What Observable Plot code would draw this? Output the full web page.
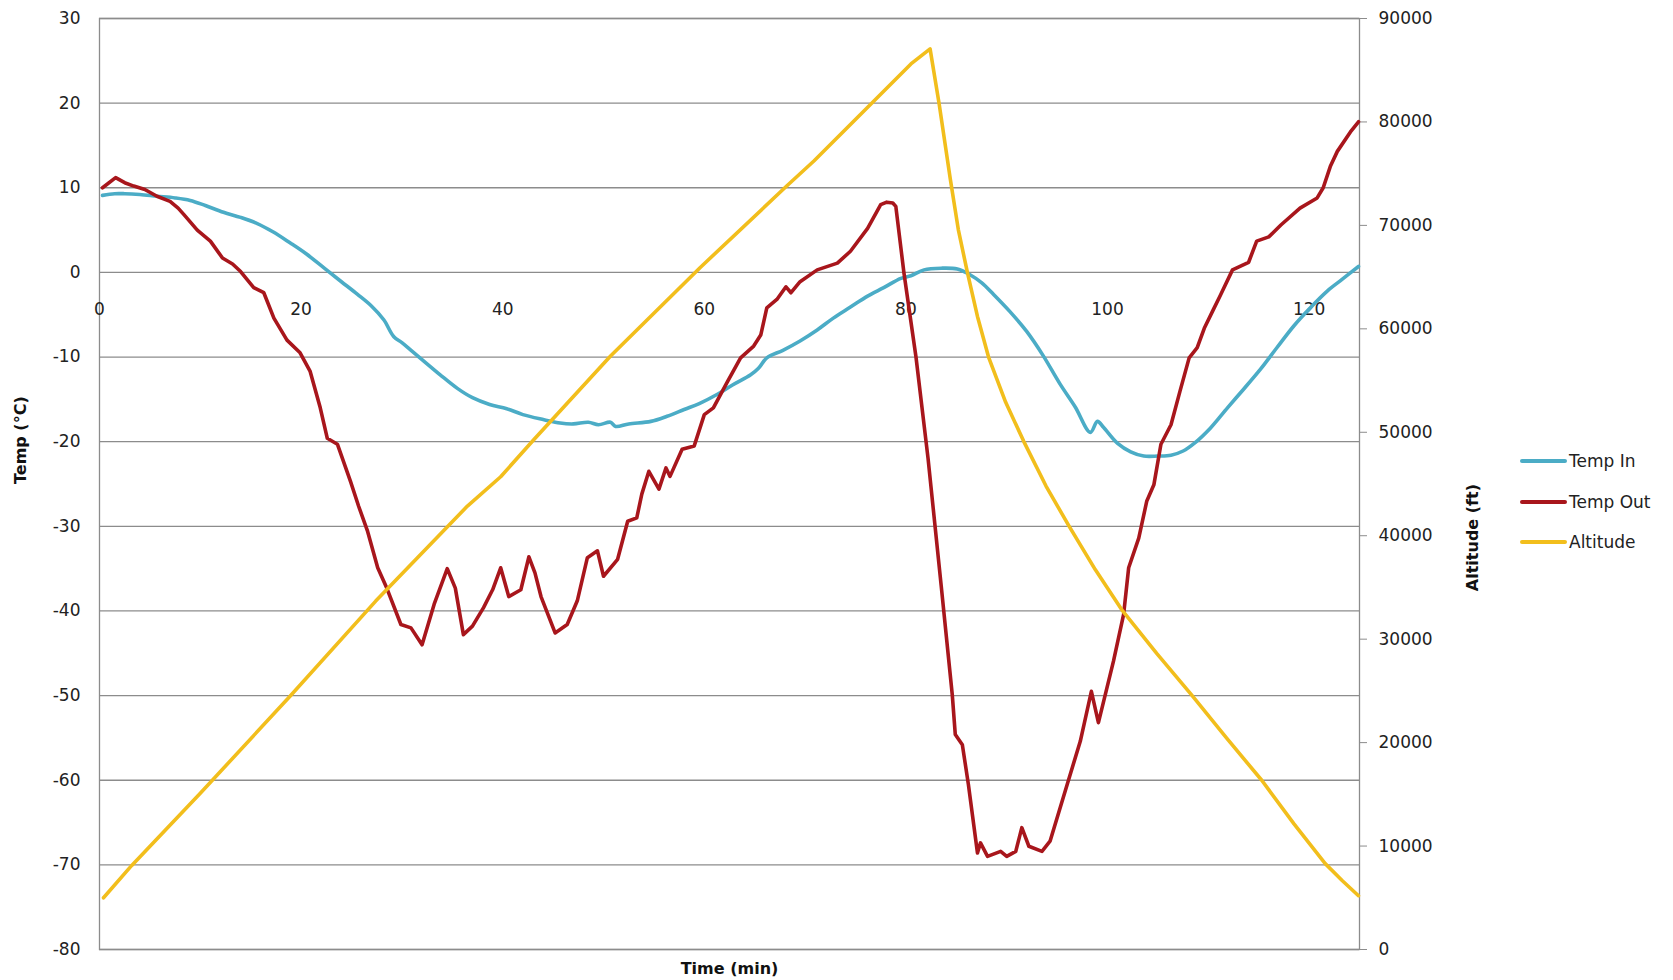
<!DOCTYPE html>
<html><head><meta charset="utf-8">
<script src="https://cdn.jsdelivr.net/npm/d3@7"></script>
<script src="https://cdn.jsdelivr.net/npm/@observablehq/plot@0.6"></script>
<style>
body{margin:0;background:#fff;font-family:"DejaVu Sans",sans-serif;}
#wrap{position:relative;width:1673px;height:980px;}
#legend{position:absolute;left:1520px;top:441px;font-size:17px;color:#222;}
.item{display:flex;align-items:center;height:40.5px;}
.sw{width:47px;height:4px;margin-right:2px;border-radius:2px;}
</style></head><body><div id="wrap"><div id="legend"></div></div>
<script>
// ---- data ----
const inTime = [0.3,1.5,2.5,4,5.7,7.5,9.0,10.5,12.3,14,15.6,17.2,18.9,20.5,22.3,24,25.6,27,28.2,29.2,30,31,32.2,33.8,35.5,37,38.7,40.4,42,44.1,45.7,47,48.5,49.5,50.7,51.2,52.5,54.7,56.3,58.0,59.5,61.3,62.8,64.6,65.4,66.2,67.8,69.5,71.2,72.8,74.5,76.2,77.8,79.5,80.5,81.8,83.5,85.1,86.4,87.5,88.7,90.3,92.0,93.6,95.3,96.8,98.3,99.0,99.6,101.0,102.3,103.6,105,106.3,107.5,108.6,110.2,111.9,113.5,115.2,116.8,118.5,120.1,121.8,123.3,124.9];
const inTemp = [9.1,9.3,9.3,9.2,9.0,8.8,8.5,7.9,7.1,6.5,5.8,4.8,3.5,2.2,0.5,-1.1,-2.6,-4.0,-5.6,-7.6,-8.3,-9.3,-10.5,-12.1,-13.7,-14.8,-15.6,-16.1,-16.8,-17.4,-17.8,-17.9,-17.7,-18.0,-17.7,-18.2,-17.9,-17.6,-17.0,-16.2,-15.5,-14.4,-13.3,-12.1,-11.3,-10.1,-9.2,-8.1,-6.8,-5.4,-4.1,-2.8,-1.8,-0.7,-0.4,0.3,0.5,0.4,-0.3,-1.2,-2.6,-4.6,-7.0,-9.8,-13.2,-15.9,-18.9,-17.6,-18.3,-20.2,-21.2,-21.7,-21.7,-21.6,-21.1,-20.2,-18.4,-16.0,-13.8,-11.4,-8.9,-6.3,-4.2,-2.2,-0.8,0.7];

const outTime = [0.3,1.6,2.5,3.4,4.5,5.7,7.0,7.8,8.4,9.7,11.0,12.2,13.2,14.0,15.3,16.3,17.3,18.6,19.9,20.9,21.9,22.6,23.6,24.9,25.7,26.6,27.6,28.5,29.9,30.9,32.0,33.2,34.5,35.3,36.1,37.0,38.1,39.0,39.8,40.6,41.8,42.6,43.2,43.8,45.2,46.4,47.4,48.4,49.4,50.0,51.4,52.4,53.3,53.8,54.5,55.5,56.2,56.6,57.8,59.0,60.0,60.9,62.3,63.6,64.9,65.6,66.2,67.2,68.1,68.6,69.5,71.2,73.2,74.5,76.2,77.5,78.1,78.7,79.0,79.8,81.0,82.2,83.5,84.6,84.9,85.6,86.2,87.1,87.4,88.1,89.4,90.0,90.9,91.5,92.2,93.5,94.3,96.0,97.3,98.4,99.1,100.6,101.6,102.1,103.1,103.9,104.6,105.3,106.3,107.2,108.1,108.9,109.6,110.5,111.2,112.4,114.0,114.8,116.0,117.2,119.1,120.8,121.4,122.1,122.8,124.1,124.9];
const outTemp = [10.0,11.2,10.6,10.2,9.8,9.0,8.4,7.6,6.8,5.0,3.7,1.7,1.0,0.1,-1.8,-2.4,-5.4,-8.0,-9.5,-11.7,-16.0,-19.6,-20.3,-24.7,-27.6,-30.6,-34.9,-37.3,-41.6,-42.0,-44.0,-39.2,-35.0,-37.3,-42.8,-41.8,-39.6,-37.5,-34.9,-38.3,-37.5,-33.6,-35.5,-38.3,-42.6,-41.6,-38.8,-33.7,-32.9,-35.9,-33.9,-29.4,-29.0,-26.2,-23.5,-25.6,-23.1,-24.1,-20.9,-20.5,-16.8,-16.0,-12.9,-10.1,-8.7,-7.4,-4.2,-3.2,-1.7,-2.4,-1.1,0.3,1.1,2.5,5.2,8.0,8.3,8.2,7.8,0.0,-10.0,-22.0,-37.0,-49.9,-54.6,-55.8,-60.5,-68.6,-67.4,-69.0,-68.4,-69.0,-68.4,-65.6,-67.8,-68.4,-67.2,-60.5,-55.4,-49.5,-53.2,-45.9,-40.4,-34.9,-31.4,-27.0,-25.1,-20.3,-18.0,-14.0,-10.1,-8.9,-6.6,-4.4,-2.7,0.3,1.2,3.7,4.2,5.6,7.6,8.8,10.0,12.5,14.3,16.6,17.8];

const altTime = [0.4,3.2,10,18.9,27.4,36.5,39.8,43.1,50.7,59.6,68.2,70.9,80.5,82.4,83.3,84.4,85.2,86.1,87.1,88.2,89.9,91.7,93.9,96.2,98.8,101.5,104.9,108.4,111.8,115.3,118.5,121.6,123.3,124.9];
const altitude = [5000,8130,15100,24480,33680,42870,45700,49300,57380,65930,73830,76250,85610,87060,81740,74500,69600,65450,61200,57270,52900,49100,44800,40900,36700,32730,28600,24550,20450,16360,12150,8300,6650,5200];

const xTicks = [0,20,40,60,80,100,120];
const tempTicks = [-80,-70,-60,-50,-40,-30,-20,-10,0,10,20,30];
const altTicks = [0,10000,20000,30000,40000,50000,60000,70000,80000,90000];
const seriesNames = ["Temp In","Temp Out","Altitude"];
const seriesColors = ["#4BACC6","#A8161C","#F2BE1C"];

// ---- build ----
const tMin = -80, tMax = 30, aMax = 90000;
const toTemp = a => tMin + a * (tMax - tMin) / aMax;
const fromTemp = t => (t - tMin) * aMax / (tMax - tMin);

const inData = inTime.map((t,i)=>({t, v: inTemp[i]}));
const outData = outTime.map((t,i)=>({t, v: outTemp[i]}));
const altData = altTime.map((t,i)=>({t, v: toTemp(altitude[i])}));

const grid = "#8c8c8c";
const chart = Plot.plot({
  width: 1673, height: 980,
  marginLeft: 99, marginRight: 314, marginTop: 18, marginBottom: 31,
  style: {fontFamily: "DejaVu Sans, sans-serif", fontSize: "17px", color: "#222", background: "#fff"},
  x: {domain: [0, 125], axis: null},
  y: {domain: [tMin, tMax], axis: null},
  marks: [
    Plot.ruleY(tempTicks, {stroke: grid, strokeWidth: 1.3}),
    Plot.frame({stroke: grid, strokeWidth: 1.3}),
    Plot.axisY({anchor: "left", ticks: tempTicks, tickFormat: d => String(d), tickSize: 0, tickPadding: 19, label: null, fontSize: 17}),
    Plot.axisY({anchor: "right", ticks: altTicks.map(toTemp), tickFormat: v => String(Math.round(fromTemp(v))), tickSize: 7, tickPadding: 12, stroke: grid, label: null, fontSize: 17}),
    Plot.text(xTicks, {x: d => d, y: () => 0, dy: 37, text: d => String(d), fontSize: 17, fill: "#222"}),
    Plot.line(inData, {x: "t", y: "v", stroke: seriesColors[0], strokeWidth: 3.6, curve: "catmull-rom"}),
    Plot.line(outData, {x: "t", y: "v", stroke: seriesColors[1], strokeWidth: 3.6, strokeLinejoin: "round"}),
    Plot.line(altData, {x: "t", y: "v", stroke: seriesColors[2], strokeWidth: 3.6, strokeLinejoin: "round"}),
    Plot.text(["Temp (°C)"], {frameAnchor: "left", dx: -79, rotate: -90, text: d => d, fontWeight: "bold", fontSize: 16, fill: "#111"}),
    Plot.text(["Altitude (ft)"], {frameAnchor: "right", dx: 113, rotate: -90, text: d => d, fontWeight: "bold", fontSize: 16, fill: "#111"}),
    Plot.text(["Time (min)"], {frameAnchor: "bottom", dy: 19, lineAnchor: "middle", text: d => d, fontWeight: "bold", fontSize: 16, fill: "#111"})
  ]
});
document.getElementById("wrap").prepend(chart);

const legend = document.getElementById("legend");
seriesNames.forEach((n,i)=>{
  const it = document.createElement("div"); it.className = "item";
  const sw = document.createElement("span"); sw.className = "sw"; sw.style.background = seriesColors[i];
  const tx = document.createElement("span"); tx.textContent = n;
  it.append(sw, tx); legend.append(it);
});
</script>
</body></html>
